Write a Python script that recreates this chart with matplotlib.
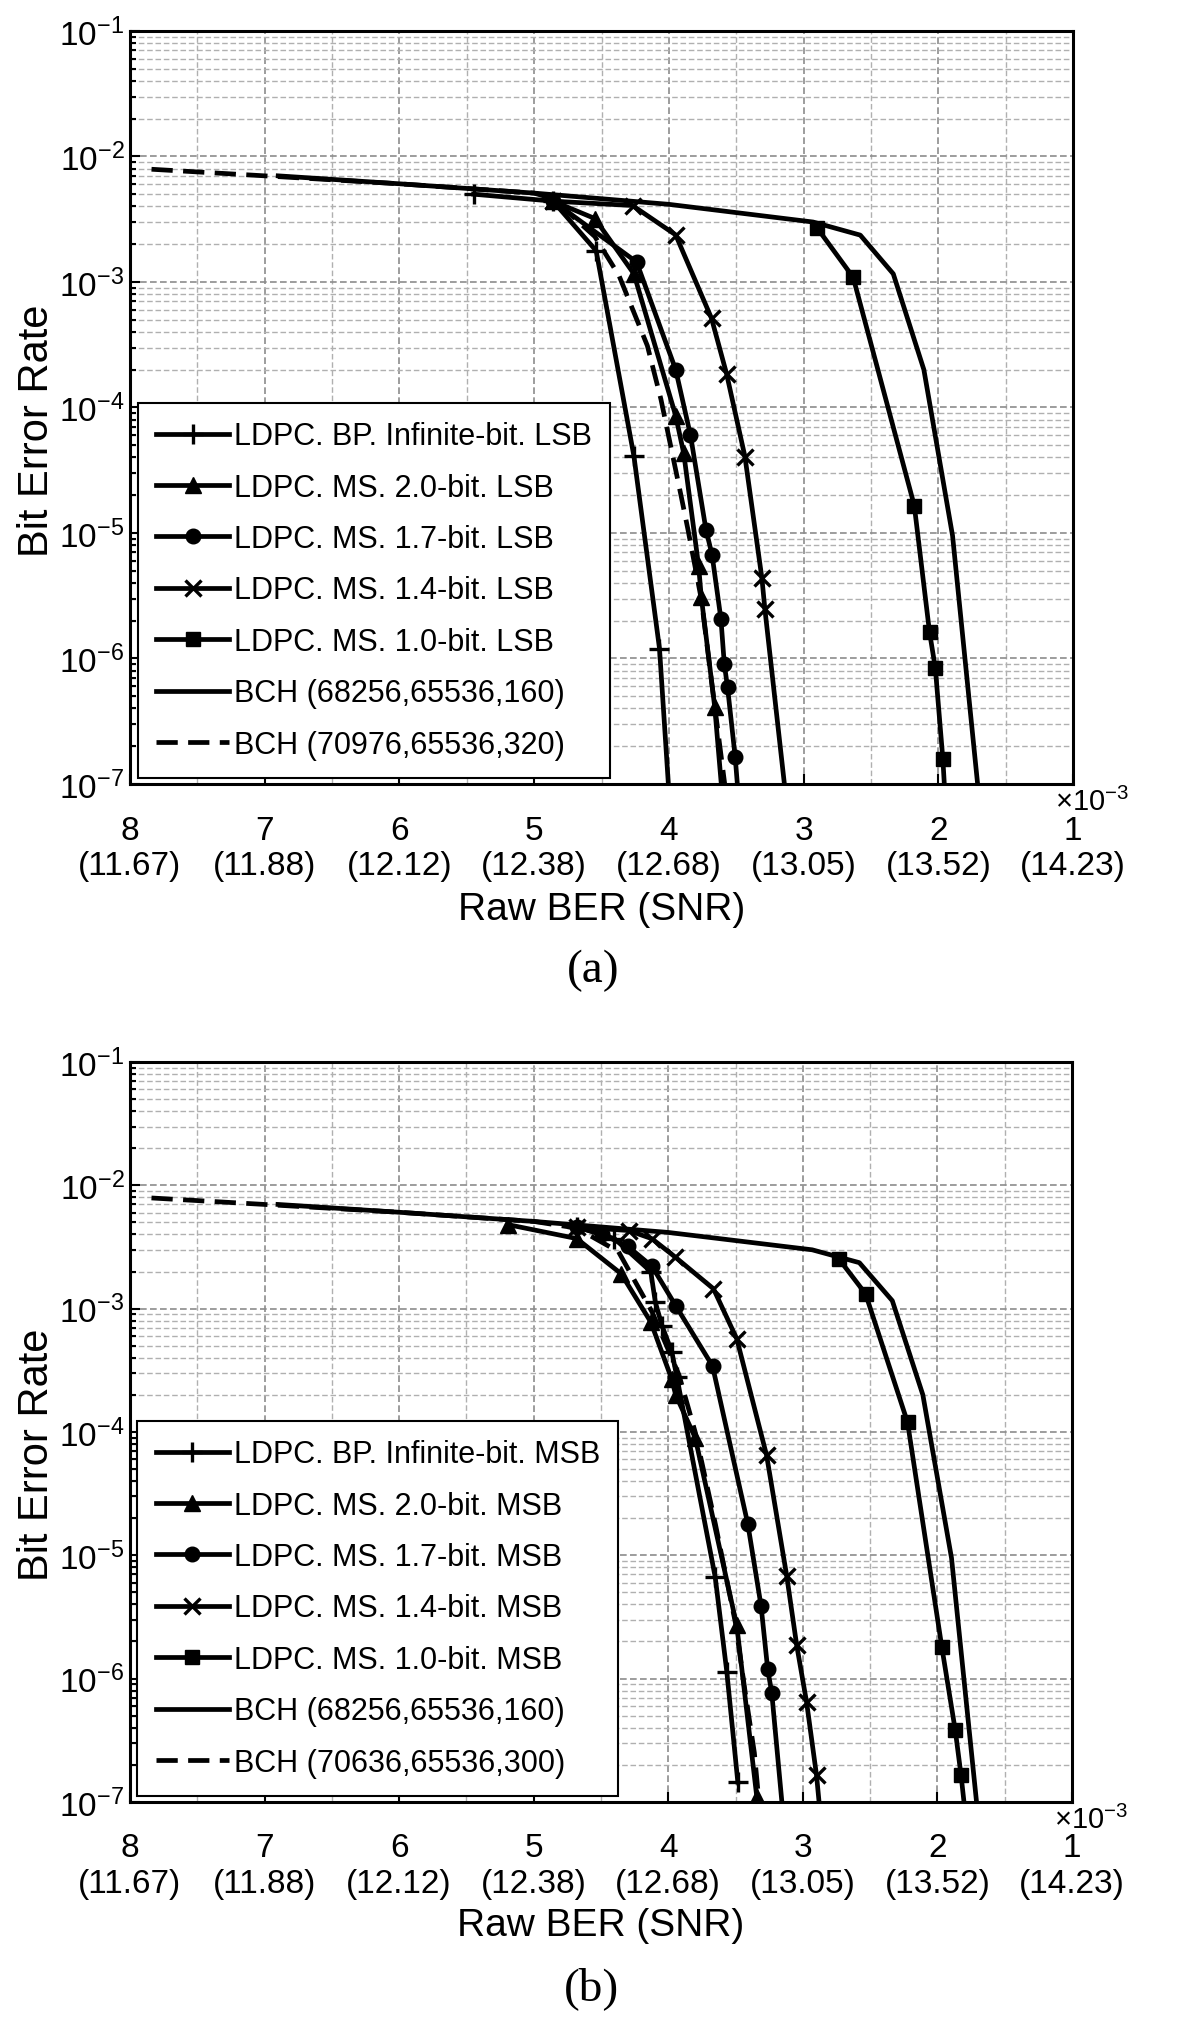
import matplotlib
matplotlib.use('Agg')
import matplotlib.pyplot as plt
from matplotlib.ticker import MultipleLocator, LogLocator, NullFormatter

plt.rcParams['font.family'] = ['Liberation Sans', 'DejaVu Sans']
plt.rcParams['mathtext.fontset'] = 'custom'
plt.rcParams['mathtext.rm'] = 'Liberation Sans'
plt.rcParams['mathtext.it'] = 'Liberation Sans:italic'
plt.rcParams['mathtext.bf'] = 'Liberation Sans:bold'
plt.rcParams['mathtext.default'] = 'regular'

# x axis: raw BER (x1e-3) with SNR in brackets
raw_ber_ticks = [8, 7, 6, 5, 4, 3, 2, 1]
snr_labels = ['11.67', '11.88', '12.12', '12.38', '12.68', '13.05', '13.52', '14.23']

# BCH (68256,65536,160) - same code in both panels
bch160_x = [6.9, 6.0, 5.0, 4.0, 2.93, 2.58, 2.335, 2.108, 1.895, 1.70]
bch160_y = [7.0e-3, 6.05e-3, 5.1e-3, 4.15e-3, 3.0e-3, 2.36e-3, 1.16e-3, 2.0e-4, 9.5e-6, 8e-8]

# ---- (a) LSB ----
bp_lsb_x = [5.45, 4.86, 4.54, 4.26, 4.07, 3.98]
bp_lsb_y = [5.0e-3, 4.4e-3, 1.77e-3, 4.1e-5, 1.2e-6, 4e-8]
ms20_lsb_x = [4.86, 4.55, 4.26, 3.95, 3.89, 3.78, 3.76, 3.66, 3.58]
ms20_lsb_y = [4.4e-3, 3.2e-3, 1.16e-3, 8.6e-5, 4.3e-5, 5.5e-6, 3.1e-6, 4.1e-7, 4e-8]
ms17_lsb_x = [4.86, 4.24, 3.95, 3.84, 3.725, 3.68, 3.614, 3.589, 3.565, 3.508, 3.47]
ms17_lsb_y = [4.4e-3, 1.44e-3, 2.0e-4, 6.0e-5, 1.06e-5, 6.7e-6, 2.06e-6, 9.0e-7, 5.9e-7, 1.63e-7, 5e-8]
ms14_lsb_x = [4.86, 4.27, 3.95, 3.684, 3.572, 3.436, 3.31, 3.288, 3.12]
ms14_lsb_y = [4.4e-3, 4.06e-3, 2.37e-3, 5.13e-4, 1.85e-4, 4.06e-5, 4.36e-6, 2.48e-6, 6e-8]
ms10_lsb_x = [2.90, 2.633, 2.179, 2.066, 2.023, 1.967, 1.94]
ms10_lsb_y = [2.69e-3, 1.09e-3, 1.65e-5, 1.62e-6, 8.4e-7, 1.58e-7, 5e-8]
bch320_x = [7.84, 7.0, 6.0, 5.0, 4.86, 4.55, 4.37, 4.16, 4.06, 3.91, 3.86, 3.76, 3.68, 3.55]
bch320_y = [7.9e-3, 7.0e-3, 6.05e-3, 5.1e-3, 4.6e-3, 2.3e-3, 1.12e-3, 3.1e-4, 1.17e-4, 1.98e-5, 1.08e-5, 2.98e-6, 6.1e-7, 5e-8]

# ---- (b) MSB ----
bp_msb_x = [4.68, 4.40, 4.13, 4.096, 4.047, 3.973, 3.936, 3.651, 3.565, 3.483]
bp_msb_y = [4.6e-3, 3.7e-3, 2.0e-3, 1.13e-3, 7.3e-4, 4.45e-4, 2.79e-4, 6.65e-6, 1.14e-6, 1.45e-7]
ms20_msb_x = [5.19, 4.68, 4.35, 4.13, 3.975, 3.945, 3.80, 3.491, 3.342]
ms20_msb_y = [4.8e-3, 3.7e-3, 1.92e-3, 7.8e-4, 2.7e-4, 2.0e-4, 9.0e-5, 2.7e-6, 1.1e-7]
ms17_msb_x = [4.68, 4.49, 4.30, 4.12, 3.943, 3.671, 3.409, 3.310, 3.261, 3.231, 3.13]
ms17_msb_y = [4.6e-3, 4.0e-3, 3.2e-3, 2.2e-3, 1.05e-3, 3.43e-4, 1.8e-5, 3.87e-6, 1.19e-6, 7.7e-7, 5e-8]
ms14_msb_x = [4.68, 4.294, 4.121, 3.948, 3.664, 3.491, 3.269, 3.120, 3.046, 2.972, 2.898, 2.86]
ms14_msb_y = [4.6e-3, 4.3e-3, 3.69e-3, 2.62e-3, 1.45e-3, 5.7e-4, 6.45e-5, 6.85e-6, 1.88e-6, 6.45e-7, 1.64e-7, 6e-8]
ms10_msb_x = [2.733, 2.534, 2.222, 1.967, 1.867, 1.824, 1.78]
ms10_msb_y = [2.54e-3, 1.32e-3, 1.2e-4, 1.8e-6, 3.8e-7, 1.64e-7, 6e-8]
bch300_x = [7.84, 7.0, 6.0, 5.0, 4.68, 4.37, 4.12, 3.92, 3.80, 3.65, 3.50, 3.43, 3.36, 3.30]
bch300_y = [7.9e-3, 7.0e-3, 6.05e-3, 5.1e-3, 4.5e-3, 2.9e-3, 9.4e-4, 2.9e-4, 1.0e-4, 1.8e-5, 2.8e-6, 8e-7, 2.5e-7, 5e-8]

LW = 3.4


def draw_panel(ax, curves, bits, bch_label):
    bp, m20, m17, m14, m10, bch2 = curves
    ax.plot(bp[0], bp[1], 'k-', lw=LW, marker='+', ms=15, mew=2.4,
            label='LDPC. BP. Infinite-bit. ' + bits)
    ax.plot(m20[0], m20[1], 'k-', lw=LW, marker='^', ms=12,
            label='LDPC. MS. 2.0-bit. ' + bits)
    ax.plot(m17[0], m17[1], 'k-', lw=LW, marker='o', ms=10.5,
            label='LDPC. MS. 1.7-bit. ' + bits)
    ax.plot(m14[0], m14[1], 'k-', lw=LW, marker='x', ms=11, mew=2.4,
            label='LDPC. MS. 1.4-bit. ' + bits)
    ax.plot(m10[0], m10[1], 'k-', lw=LW, marker='s', ms=10,
            label='LDPC. MS. 1.0-bit. ' + bits)
    ax.plot(bch160_x, bch160_y, 'k-', lw=LW, label='BCH (68256,65536,160)')
    ax.plot(bch2[0], bch2[1], 'k', lw=LW, linestyle=(0, (4.5, 2.2)), label=bch_label)

    ax.set_yscale('log')
    ax.set_ylim(1e-7, 1e-1)
    ax.set_xlim(8, 1)
    ax.set_xticks(raw_ber_ticks)
    ax.set_xticklabels(['%d\n(%s)' % (t, s) for t, s in zip(raw_ber_ticks, snr_labels)])
    ax.xaxis.set_minor_locator(MultipleLocator(0.5))
    ax.yaxis.set_minor_locator(LogLocator(base=10, subs=range(2, 10), numticks=20))
    ax.yaxis.set_minor_formatter(NullFormatter())

    ax.grid(which='major', color='#8c8c8c', linestyle=(0, (4, 2)), lw=1.2)
    ax.grid(which='minor', color='#b0b0b0', linestyle=(0, (4, 2)), lw=1.0)
    ax.set_axisbelow(True)

    ax.tick_params(which='both', direction='in', top=False, right=False, width=1.5)
    ax.tick_params(which='major', length=7, labelsize=24)
    ax.tick_params(which='minor', length=4)
    ax.xaxis.set_tick_params(which='minor', length=0)
    ax.xaxis.set_tick_params(which='major', pad=22)
    ax.yaxis.set_tick_params(which='major', pad=4)
    for sp in ax.spines.values():
        sp.set_linewidth(2.2)

    ax.text(1.02, -0.004, r'$\times10^{-3}$', transform=ax.transAxes,
            ha='center', va='top', fontsize=21)
    ax.set_ylabel('Bit Error Rate', fontsize=30)
    ax.yaxis.set_label_coords(-0.077, 0.47)
    ax.set_xlabel('Raw BER (SNR)', fontsize=28)
    ax.xaxis.set_label_coords(0.5, -0.142)

    leg = ax.legend(loc='lower left', bbox_to_anchor=(0.008, 0.008), borderaxespad=0,
                    fontsize=22, handlelength=2.4, handletextpad=0.15, labelspacing=0.7,
                    borderpad=0.6, fancybox=False, framealpha=1, edgecolor='black',
                    numpoints=1)
    leg.get_frame().set_linewidth(1.5)


fig = plt.figure(figsize=(12, 20.31), dpi=100)

ax1 = fig.add_axes([0.1083, 0.6135, 0.786, 0.3708])
draw_panel(ax1, [(bp_lsb_x, bp_lsb_y), (ms20_lsb_x, ms20_lsb_y), (ms17_lsb_x, ms17_lsb_y),
                 (ms14_lsb_x, ms14_lsb_y), (ms10_lsb_x, ms10_lsb_y), (bch320_x, bch320_y)],
           'LSB', 'BCH (70976,65536,320)')

ax2 = fig.add_axes([0.1083, 0.1123, 0.785, 0.3643])
draw_panel(ax2, [(bp_msb_x, bp_msb_y), (ms20_msb_x, ms20_msb_y), (ms17_msb_x, ms17_msb_y),
                 (ms14_msb_x, ms14_msb_y), (ms10_msb_x, ms10_msb_y), (bch300_x, bch300_y)],
           'MSB', 'BCH (70636,65536,300)')

fig.text(0.494, 0.522, '(a)', family='Liberation Serif', fontsize=34, ha='center', va='center')
fig.text(0.493, 0.021, '(b)', family='Liberation Serif', fontsize=34, ha='center', va='center')

fig.savefig('out.png', dpi=100)
